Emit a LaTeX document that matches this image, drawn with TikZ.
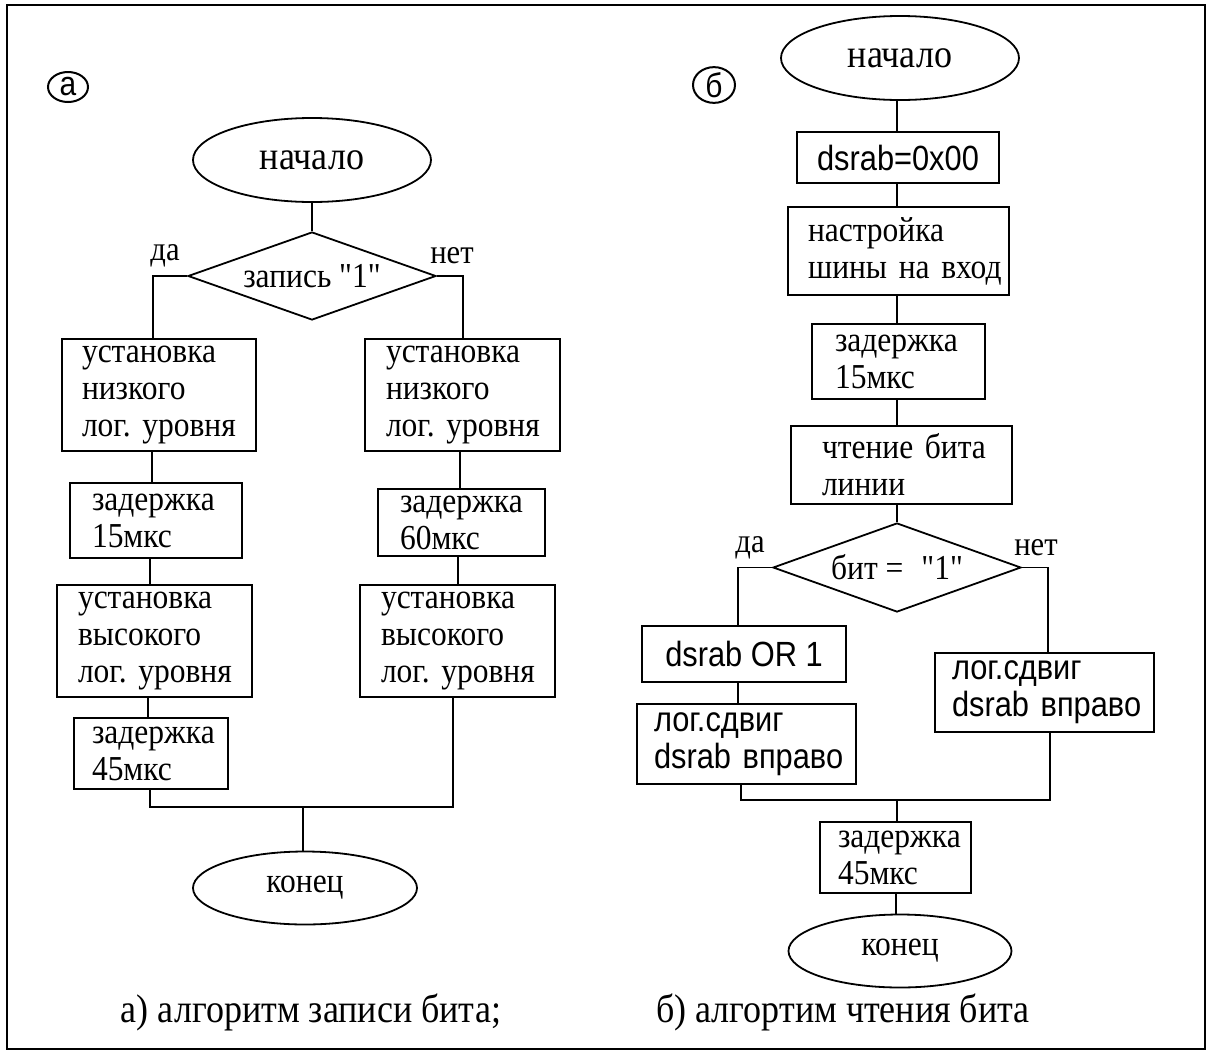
\documentclass[tikz,border=0pt]{standalone}
\usepackage{fontspec}
\setmainfont{Liberation Serif}
\newfontfamily\srf[FakeStretch=0.9]{Liberation Serif}
\newfontfamily\ssf[FakeStretch=0.88]{Liberation Sans}
\usetikzlibrary{shapes.geometric}
\tikzset{
  ln/.style={line width=1.8pt},
  term/.style={draw, ellipse, line width=1.8pt, inner sep=0pt},
  dec/.style={draw, diamond, line width=1.8pt, inner sep=0pt, shape aspect=2.8},
  pbox/.style={draw, rectangle, line width=1.8pt, align=left, inner ysep=0pt},
  btxt/.style={font=\srf\fontsize{35}{37}\selectfont},
  stxt/.style={font=\ssf\fontsize{35}{37}\selectfont},
  lbl/.style={font=\srf\fontsize{34}{34}\selectfont, inner sep=0pt},
  captxt/.style={font=\srf\fontsize{40}{40}\selectfont, inner sep=0pt},
  circ/.style={draw, ellipse, line width=2pt, inner sep=0pt, font=\ssf\fontsize{34}{34}\selectfont},
}
\begin{document}
\begin{tikzpicture}[x=1pt, y=-1pt]
\useasboundingbox (0,0) rectangle (1211,1053);
\draw[line width=2pt] (7,5) rectangle (1205,1049);

% ---------- chart a ----------
\node[circ, minimum width=40pt, minimum height=30pt] (la) at (68,87) {a};
\node[term, minimum width=238pt, minimum height=84pt, font=\srf\fontsize{40}{40}\selectfont] (sa) at (312,160) {начало};
\node[dec, minimum width=248pt, minimum height=88pt, btxt] (da) at (312,276) {запись "1"};
\node[lbl] (yesa) at (165,256) {да};
\node[lbl] (noa) at (452,256) {нет};

\node[pbox, btxt, text width=154pt, inner xsep=20pt, minimum height=112pt] (a1) at (159,395) {установка\\низкого\\лог.~уровня};
\node[pbox, btxt, text width=128pt, inner xsep=22pt, minimum height=75pt] (a2) at (156,520.5) {задержка\\15мкс};
\node[pbox, btxt, text width=153pt, inner xsep=21pt, minimum height=112pt] (a3) at (154.5,641) {установка\\высокого\\лог.~уровня};
\node[pbox, btxt, text width=118pt, inner xsep=18pt, minimum height=71pt] (a4) at (151,753.5) {задержка\\45мкс};

\node[pbox, btxt, text width=153pt, inner xsep=21pt, minimum height=112pt] (b1) at (462.5,395) {установка\\низкого\\лог.~уровня};
\node[pbox, btxt, text width=123pt, inner xsep=22pt, minimum height=67pt] (b2) at (461.5,522.5) {задержка\\60мкс};
\node[pbox, btxt, text width=153pt, inner xsep=21pt, minimum height=112pt] (b3) at (457.5,641) {установка\\высокого\\лог.~уровня};

\node[term, minimum width=224pt, minimum height=73pt, btxt] (ea) at (305,888) {конец};
\coordinate (mA) at (303,807);

\coordinate (x153) at (153,0);
\coordinate (x152) at (152,0);
\coordinate (x150) at (150,0);
\coordinate (x148) at (148,0);
\coordinate (x463) at (463,0);
\coordinate (x460) at (460,0);
\coordinate (x458) at (458,0);
\coordinate (x453) at (453,0);

\draw[ln] (sa.south) -- (da.north);
\draw[ln] (da.west) -| (a1.north -| x153);
\draw[ln] (da.east) -| (b1.north -| x463);
\draw[ln] (a1.south -| x152) -- (a2.north -| x152);
\draw[ln] (a2.south -| x150) -- (a3.north -| x150);
\draw[ln] (a3.south -| x148) -- (a4.north -| x148);
\draw[ln] (b1.south -| x460) -- (b2.north -| x460);
\draw[ln] (b2.south -| x458) -- (b3.north -| x458);
\draw[ln] (a4.south -| x150) |- (mA) -| (b3.south -| x453);
\draw[ln] (mA) -- (mA |- ea.north);

\node[captxt] (capa) at (311,1012) {а) алгоритм записи бита;};

% ---------- chart b ----------
\node[circ, minimum width=42pt, minimum height=33pt] (lb) at (714,85) {б};
\node[term, minimum width=238pt, minimum height=84pt, font=\srf\fontsize{40}{40}\selectfont] (sb) at (900,58) {начало};
\node[pbox, stxt, align=center, inner xsep=0pt, minimum width=202pt, minimum height=51pt] (c1) at (898,157.5) {dsrab=0x00};
\node[pbox, btxt, text width=181pt, inner xsep=20pt, minimum height=88pt] (c2) at (898.5,251) {настройка\\шины~на~вход};
\node[pbox, btxt, text width=127pt, inner xsep=23pt, minimum height=75pt] (c3) at (898.5,361.5) {задержка\\15мкс};
\node[pbox, btxt, text width=159pt, inner xsep=31pt, minimum height=78pt] (c4) at (901.5,465) {чтение~бита\\линии};
\node[dec, minimum width=248pt, minimum height=89pt, btxt] (db) at (897,567.5) {бит =\hspace{18pt}"1"};
\node[lbl] (yesb) at (750,548) {да};
\node[lbl] (nob) at (1036,548) {нет};

\node[pbox, stxt, align=center, inner xsep=0pt, minimum width=204pt, minimum height=56pt] (d1) at (744,654) {dsrab OR 1};
\node[pbox, stxt, text width=185pt, inner xsep=17pt, minimum height=80pt] (d2) at (746.5,744) {лог.сдвиг\\dsrab~вправо};
\node[pbox, stxt, text width=185pt, inner xsep=17pt, minimum height=79pt] (e1) at (1044.5,692.5) {лог.сдвиг\\dsrab~вправо};
\node[pbox, btxt, text width=115pt, inner xsep=18pt, minimum height=71pt] (f1) at (895.5,857.5) {задержка\\45мкс};
\node[term, minimum width=223pt, minimum height=73pt, btxt] (eb) at (900,951) {конец};
\coordinate (mB) at (897,800);

\coordinate (x897) at (897,0);
\coordinate (x738) at (738,0);
\coordinate (x741) at (741,0);
\coordinate (x1048) at (1048,0);
\coordinate (x1050) at (1050,0);
\coordinate (x896) at (896,0);

\draw[ln] (sb.south -| x897) -- (c1.north -| x897);
\draw[ln] (c1.south -| x897) -- (c2.north -| x897);
\draw[ln] (c2.south -| x897) -- (c3.north -| x897);
\draw[ln] (c3.south -| x897) -- (c4.north -| x897);
\draw[ln] (c4.south -| x897) -- (db.north);
\draw[ln] (db.west) -| (d1.north -| x738);
\draw[ln] (db.east) -| (e1.north -| x1048);
\draw[ln] (d1.south -| x738) -- (d2.north -| x738);
\draw[ln] (d2.south -| x741) |- (mB) -| (e1.south -| x1050);
\draw[ln] (mB) -- (f1.north -| x897);
\draw[ln] (f1.south -| x896) -- (eb.north -| x896);

\node[captxt] (capb) at (843,1012) {б) алгортим чтения бита};
\end{tikzpicture}
\end{document}
